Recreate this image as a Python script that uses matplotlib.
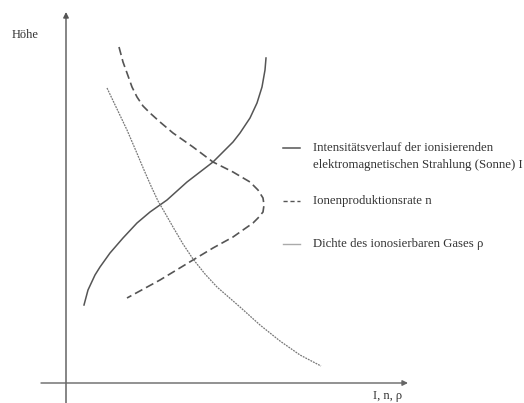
import matplotlib
matplotlib.use('Agg')
import matplotlib.pyplot as plt

# schematic curves, x = I/n/rho (arbitrary), y = Hoehe (arbitrary)
intens_x = [18, 22, 29, 34, 44, 57, 71, 84, 101, 121, 147, 167, 174, 184, 191, 196, 199, 200]
intens_y = [78, 93, 108, 116, 130, 145, 160, 171, 183, 201, 221, 241, 250, 265, 280, 296, 313, 325]

ionen_x = [53, 57, 61, 66, 71, 77, 84, 94, 107, 127, 147, 167, 184, 192, 197,
           198, 197, 192, 187, 177, 167, 147, 127, 94, 61]
ionen_y = [336, 321, 310, 296, 286, 277, 270, 261, 250, 236, 221, 211, 201, 193, 185,
           178, 171, 165, 160, 153, 146, 135, 123, 103, 85]

dichte_x = [41, 51, 61, 70, 78, 85, 92, 99, 107, 117, 127, 139, 151, 174, 194, 214, 234, 255]
dichte_y = [295, 274, 253, 232, 213, 197, 182, 170, 156, 139, 124, 109, 96, 76, 58, 42, 28, 17]

labels = [
    "Intensitätsverlauf der ionisierenden\nelektromagnetischen Strahlung (Sonne) I",
    "Ionenproduktionsrate n",
    "Dichte des ionosierbaren Gases ρ",
]

plt.rcParams['font.family'] = ['Liberation Serif', 'DejaVu Serif']

fig = plt.figure(figsize=(5.24, 4.03), dpi=100)
ax = fig.add_axes([0, 0, 1, 1])
ax.set_xlim(-66, 458)
ax.set_ylim(-20, 383)
ax.axis('off')

# axes with arrows
ax.annotate('', xy=(0, 371), xytext=(0, -20),
            arrowprops=dict(arrowstyle='-|>', color='#555555', lw=1.0,
                            mutation_scale=8, shrinkA=0, shrinkB=0))
ax.annotate('', xy=(342, 0), xytext=(-25, 0),
            arrowprops=dict(arrowstyle='-|>', color='#666666', lw=1.0,
                            mutation_scale=8, shrinkA=0, shrinkB=0))
ax.text(-54, 348, "Höhe", fontsize=9, va='center', ha='left', color='#333333')
ax.text(322, -13, "I, n, ρ", fontsize=9, va='center', ha='center', color='#333333')

ax.plot(intens_x, intens_y, color='#555555', lw=1.1)
ax.plot(ionen_x, ionen_y, color='#555555', lw=1.2, linestyle=(0, (5, 2.5)))
ax.plot(dichte_x, dichte_y, color='#777777', lw=0.9, linestyle=(0, (1.5, 0.8)))

# hand-placed legend (figure pixel rows -> fractions)
styles = [dict(color='#555555', lw=1.1, linestyle='-'),
          dict(color='#555555', lw=1.0, linestyle=(0, (3, 2))),
          dict(color='#aaaaaa', lw=1.0, linestyle='-')]
rows_y = [148, 201, 244]
for lab, st, py in zip(labels, styles, rows_y):
    yf = 1 - py / 403
    ax.plot([283 / 524, 300 / 524], [yf, yf], transform=fig.transFigure, **st)
    for k, line in enumerate(lab.split('\n')):
        ax.text(313 / 524, 1 - (py + 17 * k) / 403, line, transform=fig.transFigure,
                fontsize=9.2, va='center', ha='left', color='#333333')

fig.savefig('out.png', dpi=100)
